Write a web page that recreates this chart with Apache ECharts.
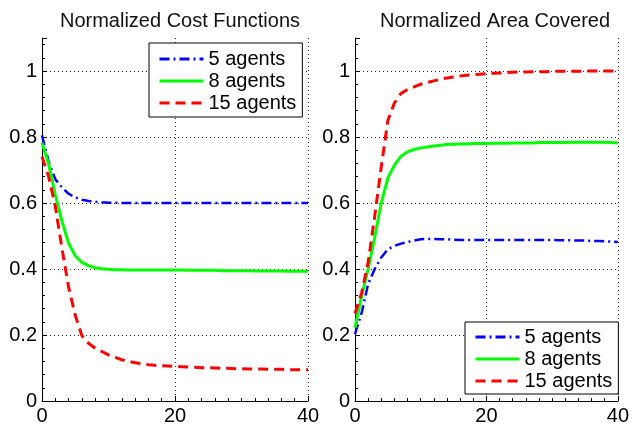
<!DOCTYPE html>
<html>
<head>
<meta charset="utf-8">
<script src="https://cdn.jsdelivr.net/npm/echarts@6/dist/echarts.min.js"></script>
<style>html,body{margin:0;padding:0;background:#fff}#c{width:632px;height:426px}</style>
</head>
<body>
<div id="c"></div>
<script>
var titles = ['Normalized Cost Functions', 'Normalized Area Covered'];
var names = ['5 agents', '8 agents', '15 agents'];
var xs = [0,1,2,3,4,5,6,7,8,9,10,11,12,13,14,15,16,17,18,19,20,21,22,23,24,25,26,27,28,29,30,31,32,33,34,35,36,37,38,39,40];
var cost5 = [0.805,0.725,0.672,0.647,0.628,0.617,0.610,0.606,0.604,0.602,0.601,0.601,0.600,0.600,0.600,0.600,0.600,0.600,0.600,0.600,0.600,0.600,0.600,0.600,0.600,0.600,0.600,0.600,0.600,0.600,0.600,0.600,0.600,0.600,0.600,0.600,0.600,0.600,0.600,0.600,0.600];
var cost8 = [0.783,0.718,0.625,0.545,0.478,0.440,0.420,0.410,0.404,0.401,0.399,0.398,0.398,0.397,0.397,0.397,0.397,0.397,0.397,0.397,0.397,0.397,0.396,0.396,0.396,0.396,0.396,0.395,0.395,0.395,0.395,0.395,0.394,0.394,0.394,0.394,0.394,0.393,0.393,0.393,0.393];
var cost15 = [0.740,0.680,0.590,0.463,0.345,0.260,0.198,0.175,0.160,0.150,0.140,0.132,0.125,0.120,0.116,0.113,0.110,0.108,0.107,0.106,0.105,0.104,0.103,0.102,0.101,0.101,0.100,0.099,0.099,0.098,0.098,0.097,0.097,0.097,0.096,0.096,0.096,0.095,0.095,0.095,0.095];
var area5 = [0.203,0.266,0.355,0.400,0.435,0.460,0.470,0.477,0.482,0.486,0.490,0.491,0.491,0.490,0.490,0.489,0.488,0.488,0.488,0.488,0.488,0.488,0.488,0.488,0.488,0.488,0.488,0.488,0.488,0.488,0.488,0.487,0.487,0.487,0.486,0.486,0.485,0.485,0.484,0.483,0.482];
var area8 = [0.222,0.317,0.400,0.495,0.600,0.675,0.715,0.742,0.755,0.762,0.767,0.770,0.773,0.775,0.777,0.778,0.779,0.779,0.780,0.780,0.780,0.781,0.781,0.781,0.782,0.782,0.782,0.782,0.783,0.783,0.783,0.783,0.783,0.784,0.784,0.784,0.784,0.784,0.784,0.783,0.782];
var area15 = [0.265,0.327,0.420,0.560,0.710,0.850,0.903,0.932,0.944,0.952,0.960,0.965,0.970,0.975,0.979,0.982,0.985,0.987,0.989,0.990,0.992,0.993,0.994,0.995,0.996,0.997,0.997,0.998,0.998,0.998,0.999,0.999,0.999,0.999,0.999,1.000,1.000,1.000,1.000,1.000,1.000];
var yTicks = [0, 0.2, 0.4, 0.6, 0.8, 1];
var xTicks = [0, 20, 40];

function pairs(ys){ return xs.map(function(x,i){ return [x, ys[i]]; }); }

var font = 'Liberation Sans, Arial, Helvetica, sans-serif';
var styles = [
  {color:'#0000ff', width:2.5, type:[10,4,2,4]},
  {color:'#00ff00', width:3, type:'solid'},
  {color:'#ff0000', width:3, type:[10,6]}
];
var gridsPos = [{left:42, top:38, width:266, height:363.5},{left:355, top:38, width:268, height:363.5}];

function xAxis(i){
  return {type:'value', gridIndex:i, min:0, max:40, interval:20,
    axisLine:{show:true, lineStyle:{color:'#000', width:1}},
    axisTick:{show:true, inside:true, length:5, lineStyle:{color:'#000'}},
    minorTick:{show:true, splitNumber:10, length:3, lineStyle:{color:'#000'}},
    axisLabel:{color:'#000', fontSize:20, fontFamily:font, margin:5},
    splitLine:{show:true, showMinLine:false, lineStyle:{color:'#222', type:[1,3], width:1}}
  };
}
function yAxis(i){
  return {type:'value', gridIndex:i, min:0, max:1.1, interval:0.2,
    axisLine:{show:true, onZero:false, lineStyle:{color:'#000', width:1}},
    axisTick:{show:true, inside:true, length:5, lineStyle:{color:'#000'}},
    minorTick:{show:true, splitNumber:5, length:3, lineStyle:{color:'#000'}},
    axisLabel:{color:'#000', fontSize:20, fontFamily:font, margin:5, showMaxLabel:false,
      formatter:function(v){ return yTicks.indexOf(Math.round(v*10)/10) >= 0 ? String(Math.round(v*10)/10) : ''; }},
    splitLine:{show:true, showMinLine:false, showMaxLine:false, lineStyle:{color:'#222', type:[1,3], width:1}}
  };
}
var dataSets = [[cost5, cost8, cost15],[area5, area8, area15]];
var series = [];
for (var g=0; g<2; g++){
  for (var k=0; k<3; k++){
    series.push({type:'line', name:names[k], xAxisIndex:g, yAxisIndex:g, data:pairs(dataSets[g][k]),
      showSymbol:false, symbol:'none', smooth:false, animation:false,
      lineStyle:styles[k], itemStyle:{color:styles[k].color}});
  }
}
var legendCommon = {orient:'vertical', data:names, itemWidth:44, itemHeight:14, itemGap:2,
  backgroundColor:'#fff', borderColor:'#000', borderWidth:1, borderRadius:0, selectedMode:false,
  itemStyle:{opacity:0, borderWidth:0},
  lineStyle:{width:3},
  textStyle:{color:'#000', fontSize:20, fontFamily:font}};
var option = {
  animation:false,
  backgroundColor:'#fff',
  title:[
    {text:titles[0], left:175, top:6, textAlign:'center', textStyle:{fontSize:20, fontWeight:'normal', color:'#111', fontFamily:font}},
    {text:titles[1], left:490, top:6, textAlign:'center', textStyle:{fontSize:20, fontWeight:'normal', color:'#111', fontFamily:font}}
  ],
  grid:gridsPos,
  xAxis:[xAxis(0), xAxis(1)],
  yAxis:[yAxis(0), yAxis(1)],
  legend:[
    Object.assign({left:149, top:43, padding:[6,6,4,9]}, legendCommon),
    Object.assign({left:465, top:322, padding:[5,6,3,9]}, legendCommon)
  ],
  series:series
};
var chart = echarts.init(document.getElementById('c'), null, {renderer:'canvas'});
chart.setOption(option);
</script>
</body>
</html>
